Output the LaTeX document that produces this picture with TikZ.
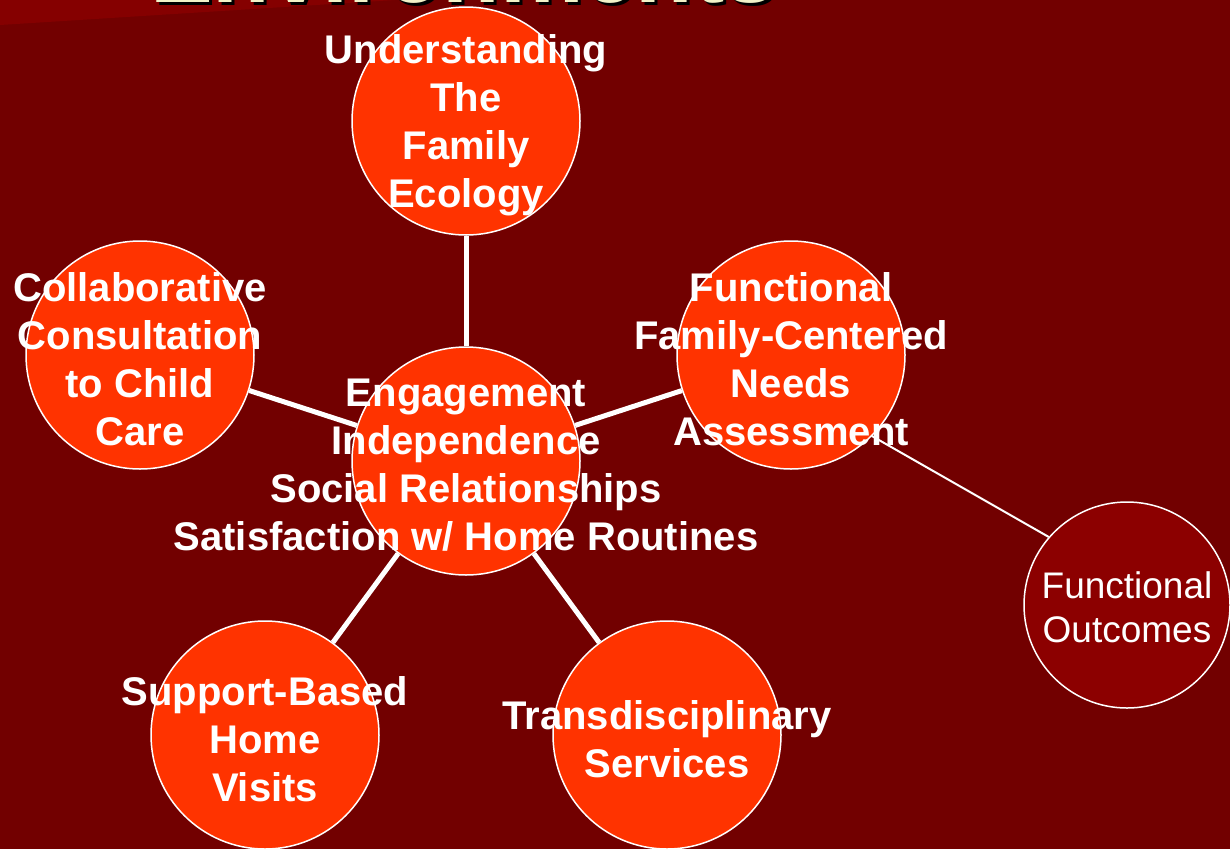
\documentclass[tikz,border=0pt]{standalone}
\usepackage{fontspec}
\setmainfont{Liberation Sans}
\definecolor{bgred}{HTML}{720000}
\definecolor{bglight}{HTML}{850000}
\definecolor{orb}{HTML}{FF3300}
\definecolor{darkorb}{HTML}{8C0000}
\definecolor{cream}{HTML}{F2F2C8}
\begin{document}
\begin{tikzpicture}[x=1pt,y=-1pt,
  bigc/.style={circle, draw=white, line width=1.5pt, fill=orb, minimum size=228pt, inner sep=0pt},
  outc/.style={circle, draw=white, line width=1.5pt, fill=darkorb, minimum size=206pt, inner sep=0pt},
  blbl/.style={inner sep=0pt, yshift=-4pt, text=white, align=center, font=\fontsize{40}{48}\selectfont\bfseries},
  olbl/.style={inner sep=0pt, yshift=-2pt, text=white, align=center, font=\fontsize{37}{44}\selectfont},
  spoke/.style={draw=white, line width=5pt},
  thinlink/.style={draw=white, line width=2pt}]
\useasboundingbox (0,0) rectangle (1230,849);
\clip (0,0) rectangle (1230,849);
\fill[bgred] (0,0) rectangle (1230,849);
\fill[bglight] (0,0) -- (395,0) -- (0,25) -- cycle;
% title (cut off at top)
\node[anchor=base west, inner sep=0pt, text=black, font=\fontsize{94}{94}\selectfont\bfseries] (titleshadow) at (153,5) {Environments};
\node[anchor=base west, inner sep=0pt, text=cream, font=\fontsize{94}{94}\selectfont\bfseries] (title) at (150,2) {Environments};
% circles
\node[bigc] (center) at (466,461) {};
\node[bigc] (top) at (466,121) {};
\node[bigc] (left) at (140,355) {};
\node[bigc] (right) at (791,355) {};
\node[bigc] (bl) at (265,735) {};
\node[bigc] (br) at (667,735) {};
\node[outc] (fo) at (1127,605) {};
% connectors
\draw[spoke] (center) -- (top);
\draw[spoke] (center) -- (left);
\draw[spoke] (center) -- (right);
\draw[spoke] (center) -- (bl);
\draw[spoke] (center) -- (br);
\draw[thinlink] (right.-45) -- (fo.139);
% labels
\node[blbl] (toplbl) at (top.center) {Understanding\\The\\Family\\Ecology};
\node[blbl] (leftlbl) at (left.center) {Collaborative\\Consultation\\to Child\\Care};
\node[blbl] (rightlbl) at (right.center) {Functional\\Family-Centered\\Needs\\Assessment};
\node[blbl] (bllbl) at (bl.center) {Support-Based\\Home\\Visits};
\node[blbl] (brlbl) at (br.center) {Transdisciplinary\\Services};
\node[olbl] (folbl) at (fo.center) {Functional\\Outcomes};
\node[blbl] (centerlbl) at (center.center) {Engagement\\Independence\\Social Relationships\\Satisfaction w/ Home Routines};
\end{tikzpicture}
\end{document}
